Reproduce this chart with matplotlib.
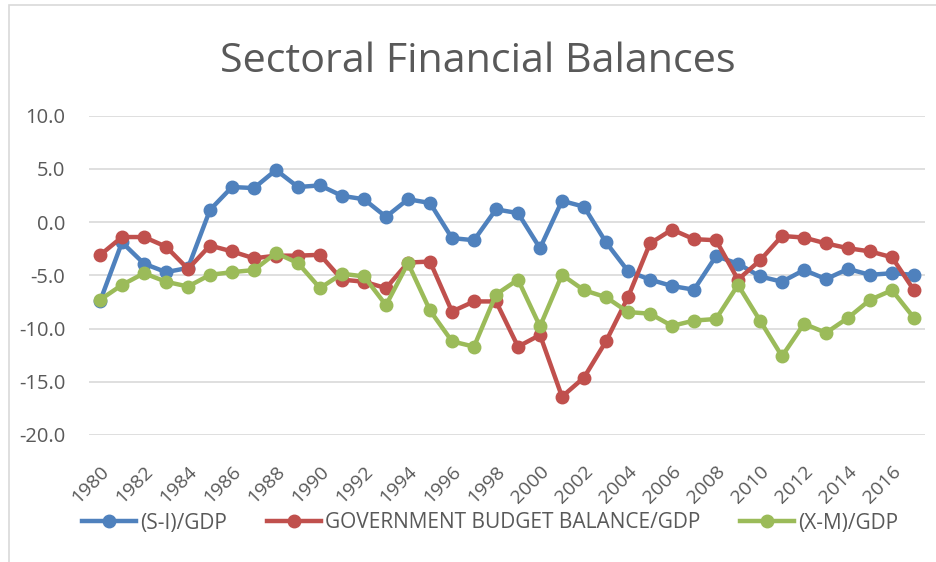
import matplotlib
matplotlib.use("Agg")
import matplotlib.pyplot as plt
from matplotlib.patches import Rectangle
from matplotlib.lines import Line2D

years = list(range(1980, 2018))
si_gdp = [-7.45, -1.9, -3.9, -4.7, -4.3, 1.15, 3.3, 3.2, 4.9, 3.3, 3.45, 2.47, 2.15, 0.5,
          2.15, 1.8, -1.5, -1.7, 1.2, 0.85, -2.45, 2.0, 1.45, -1.9, -4.6, -5.4, -6.0, -6.35,
          -3.2, -3.9, -5.1, -5.6, -4.5, -5.35, -4.4, -4.95, -4.8, -4.95]
gov_gdp = [-3.1, -1.4, -1.4, -2.3, -4.4, -2.2, -2.75, -3.4, -3.15, -3.15, -3.07, -5.4, -5.6, -6.2,
           -3.8, -3.7, -8.4, -7.45, -7.45, -11.7, -10.6, -16.4, -14.6, -11.2, -7.05, -2.0, -0.7, -1.6,
           -1.7, -5.4, -3.6, -1.3, -1.45, -2.0, -2.45, -2.75, -3.3, -6.4]
xm_gdp = [-7.3, -5.9, -4.8, -5.6, -6.05, -4.95, -4.7, -4.5, -2.9, -3.85, -6.2, -4.85, -5.1, -7.8,
          -3.85, -8.3, -11.2, -11.7, -6.8, -5.4, -9.8, -4.95, -6.4, -7.05, -8.45, -8.6, -9.75, -9.25,
          -9.1, -5.9, -9.25, -12.6, -9.55, -10.4, -9.0, -7.3, -6.4, -9.0]
series_names = ["(S-I)/GDP", "GOVERNMENT BUDGET BALANCE/GDP", "(X-M)/GDP"]
colors = ["#4F81BD", "#C0504D", "#9BBB59"]
yticks = [10, 5, 0, -5, -10, -15, -20]
xtick_years = list(range(1980, 2017, 2))

plt.rcParams['font.family'] = ['Open Sans', 'DejaVu Sans']
text_color = "#595959"

fig = plt.figure(figsize=(9.37, 5.62), dpi=100)
fig.patches.append(Rectangle((9/937, -0.1), 1.2, 1 - 5/562 + 0.1, transform=fig.transFigure,
                             fill=False, edgecolor="#D9D9D9", linewidth=1.2))
ax = fig.add_axes([89/937, 1 - 435/562, (925 - 89)/937, (435 - 115.7)/562])

for vals, c, name in zip([si_gdp, gov_gdp, xm_gdp], colors, series_names):
    ax.plot(years, vals, color=c, linewidth=3.2, marker='o', markersize=9, label=name,
            solid_capstyle='round', solid_joinstyle='round')

ax.set_xlim(1979.5, 2017.5)
ax.set_ylim(-20, 10)
ax.set_yticks(yticks)
ax.set_yticklabels([f"{v:.1f}" for v in yticks])
ax.set_xticks(xtick_years)
ax.set_xticklabels([str(y) for y in xtick_years], rotation=45, ha='right', rotation_mode='anchor')
ax.grid(axis='y', color="#D9D9D9", linewidth=1.2)
ax.set_axisbelow(True)
for s in ax.spines.values():
    s.set_visible(False)
ax.tick_params(axis='both', length=0, colors=text_color)
ax.tick_params(axis='y', pad=17, labelsize=14.5)
ax.tick_params(axis='x', pad=20, labelsize=14)

fig.text(477.5 / 937, 1 - 72/562, "Sectoral Financial Balances", ha='center', va='baseline',
         fontsize=29.7, color=text_color)

handles = [Line2D([0], [0], color=c, linewidth=3.2, marker='o', markersize=9) for c in colors]
fig.legend(handles, series_names, loc='center', bbox_to_anchor=(490 / 937, 1 - 523/562), ncol=3,
           frameon=False, fontsize=15, labelcolor=text_color, handlelength=2.6, handletextpad=0.2,
           columnspacing=1.9)

fig.savefig("out.png", dpi=100)
